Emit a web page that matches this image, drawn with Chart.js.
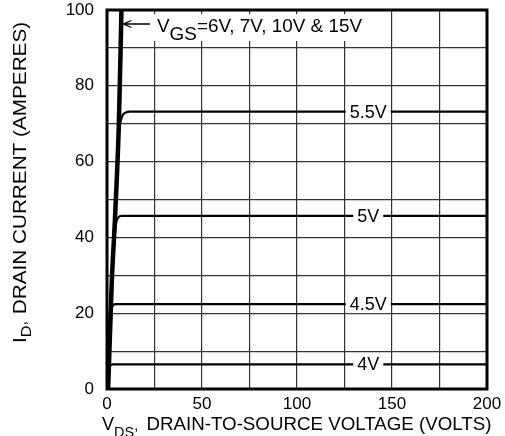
<!DOCTYPE html>
<html>
<head>
<meta charset="utf-8">
<script src="https://cdn.jsdelivr.net/npm/chart.js@4.4.1/dist/chart.umd.min.js"></script>
<style>
  html, body { margin: 0; padding: 0; background: #fff; }
</style>
</head>
<body>
<canvas id="chart" width="505" height="436"></canvas>
<script>
// --- data ---
// 6V, 7V, 10V & 15V all overlap in one thick steep line
const vdsHigh = [0.6, 2.5, 4.2, 6.3, 7.6];
const idHigh  = [0, 28, 45, 71, 100];

const vds55 = [0, 2, 4, 5.8, 6.8, 8, 10, 12, 200];
const id55  = [0, 25, 43, 63, 69.5, 72, 73, 73.2, 73.2];

const vds50 = [0, 2, 4, 4.8, 6, 7.7, 200];
const id50  = [0, 23, 40, 43.8, 45.3, 45.7, 45.7];

const vds45 = [0, 1.5, 2.2, 3, 4.5, 200];
const id45  = [0, 16, 20.5, 22, 22.4, 22.4];

const vds40 = [0, 1, 1.8, 3, 200];
const id40  = [0, 5, 6.2, 6.5, 6.5];

const curveLabels = ['5.5V', '5V', '4.5V', '4V'];
const curveLevels = [73.2, 45.7, 22.4, 6.5];

const xMax = 200;
const yMax = 100;

const FONT = '"Liberation Sans", Arial, Helvetica, sans-serif';

function toPoints(xs, ys) {
    return xs.map((x, i) => ({ x: x, y: ys[i] }));
}

function curve(xs, ys, width) {
    return {
        data: toPoints(xs, ys),
        borderColor: '#000',
        borderWidth: width,
        pointRadius: 0,
        fill: false,
        cubicInterpolationMode: 'monotone'
    };
}

// labels sitting on the curves, with a white box that breaks the line
const curveLabelPlugin = {
    id: 'curveLabels',
    afterDatasetsDraw(chart) {
        const ctx = chart.ctx;
        const sx = chart.scales.x;
        const sy = chart.scales.y;
        ctx.save();
        ctx.font = '18px ' + FONT;
        ctx.textAlign = 'center';
        ctx.textBaseline = 'middle';
        curveLabels.forEach((txt, i) => {
            const cx = sx.getPixelForValue(137.5);
            const cy = sy.getPixelForValue(curveLevels[i]);
            const w = ctx.measureText(txt).width + 8;
            ctx.fillStyle = '#fff';
            ctx.fillRect(cx - w / 2, cy - 9, w, 18);
            ctx.fillStyle = '#000';
            ctx.fillText(txt, cx, cy + 1);
        });

        // V_GS annotation with arrow pointing at the thick line
        const x0 = sx.getPixelForValue(24.2);
        const x1 = sx.getPixelForValue(137);
        const y0 = sy.getPixelForValue(98.9);
        const y1 = sy.getPixelForValue(91.8);
        ctx.fillStyle = '#fff';
        ctx.fillRect(x0, y0, x1 - x0, y1 - y0);

        const ay = sy.getPixelForValue(96.3);
        const tip = sx.getPixelForValue(8.6);
        const tail = sx.getPixelForValue(22.6);
        ctx.strokeStyle = '#000';
        ctx.lineWidth = 1.3;
        ctx.beginPath();
        ctx.moveTo(tail, ay);
        ctx.lineTo(tip, ay);
        ctx.moveTo(tip + 8, ay - 3.5);
        ctx.lineTo(tip, ay);
        ctx.lineTo(tip + 8, ay + 3.5);
        ctx.stroke();

        ctx.fillStyle = '#000';
        ctx.textAlign = 'left';
        ctx.textBaseline = 'alphabetic';
        const base = sy.getPixelForValue(94.2);
        ctx.translate(sx.getPixelForValue(26.3), base);
        ctx.scale(1.05, 1);
        ctx.font = '18px ' + FONT;
        let tx = 0;
        ctx.fillText('V', tx, 0);
        tx += ctx.measureText('V').width;
        ctx.fillText('GS', tx, 7.7);
        tx += ctx.measureText('GS').width;
        ctx.fillText('=6V, 7V, 10V & 15V', tx, 0);
        ctx.restore();

        // plot frame
        const a = chart.chartArea;
        ctx.save();
        ctx.strokeStyle = '#000';
        ctx.lineWidth = 3;
        ctx.strokeRect(a.left, a.top, a.right - a.left, a.bottom - a.top);
        ctx.restore();
    }
};

// axis titles with subscripts
const axisTitlePlugin = {
    id: 'axisTitles',
    afterDraw(chart) {
        const ctx = chart.ctx;
        ctx.save();
        ctx.fillStyle = '#000';
        ctx.textBaseline = 'alphabetic';
        ctx.textAlign = 'left';

        // x title
        let x = 102;
        const yb = 430;
        ctx.font = '18px ' + FONT;
        ctx.fillText('V', x, yb);
        x += ctx.measureText('V').width;
        ctx.font = '14.5px ' + FONT;
        ctx.fillText('DS', x, yb + 7);
        x += ctx.measureText('DS').width;
        ctx.fillText(',', x, yb);
        ctx.save();
        ctx.translate(146.5, yb);
        ctx.scale(1.04, 1);
        ctx.font = '18px ' + FONT;
        ctx.fillText('DRAIN-TO-SOURCE VOLTAGE (VOLTS)', 0, 0);
        ctx.restore();

        // y title, rotated, set a bit wide like the reference
        ctx.translate(26, 343);
        ctx.rotate(-Math.PI / 2);
        ctx.scale(1.12, 1);
        let t = 0;
        ctx.font = '18.5px ' + FONT;
        ctx.fillText('I', t, 0);
        t += ctx.measureText('I').width;
        ctx.font = '14.5px ' + FONT;
        ctx.fillText('D', t, 5);
        t += ctx.measureText('D').width;
        ctx.fillText(',', t, 0);
        t += ctx.measureText(', ').width + 2;
        ctx.font = '18.5px ' + FONT;
        ctx.fillText('DRAIN CURRENT (AMPERES)', t, 0);
        ctx.restore();
    }
};

new Chart(document.getElementById('chart'), {
    type: 'line',
    data: {
        datasets: [
            curve(vdsHigh, idHigh, 4.5),
            curve(vds55, id55, 2.2),
            curve(vds50, id50, 2.2),
            curve(vds45, id45, 2.2),
            curve(vds40, id40, 2.2)
        ]
    },
    options: {
        responsive: false,
        animation: false,
        devicePixelRatio: 1,
        layout: { padding: { top: 10, right: 18, left: 0, bottom: 0 } },
        plugins: {
            legend: { display: false },
            tooltip: { enabled: false }
        },
        scales: {
            x: {
                type: 'linear',
                min: 0,
                max: xMax,
                ticks: {
                    stepSize: 25,
                    autoSkip: false,
                    maxRotation: 0,
                    padding: 5,
                    color: '#000',
                    font: { size: 17, family: FONT },
                    callback: v => (v % 50 === 0 ? v : '')
                },
                grid: { color: '#333', lineWidth: 1.2, drawTicks: false },
                border: { display: false },
                afterFit: s => {
                    s.height = 47;
                    s.paddingLeft = 0;
                    s.paddingRight = 0;
                }
            },
            y: {
                type: 'linear',
                min: 0,
                max: yMax,
                ticks: {
                    stepSize: 10,
                    autoSkip: false,
                    padding: 13,
                    color: '#000',
                    font: { size: 17, family: FONT },
                    callback: v => (v % 20 === 0 ? v : '')
                },
                grid: { color: '#333', lineWidth: 1.2, drawTicks: false },
                border: { display: false },
                afterFit: s => {
                    s.width = 107;
                    s.paddingTop = 0;
                    s.paddingBottom = 0;
                }
            }
        }
    },
    plugins: [curveLabelPlugin, axisTitlePlugin]
});
</script>
</body>
</html>
